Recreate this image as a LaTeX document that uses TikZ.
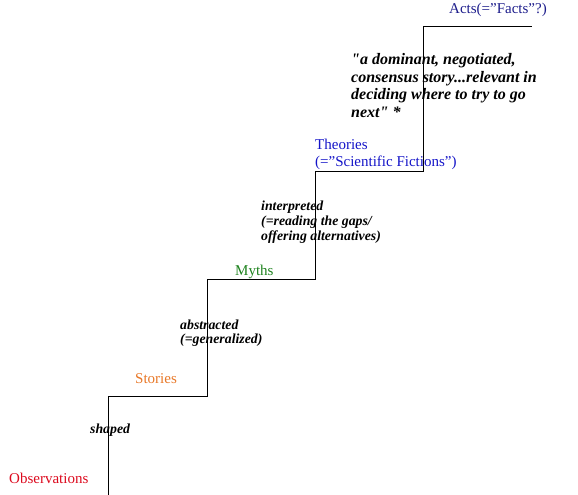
\documentclass[tikz,border=0pt]{standalone}
\usepackage{fontspec}
\setmainfont{Liberation Serif}[Ligatures=TeXOff]
\definecolor{actsc}{RGB}{30,30,140}
\definecolor{theoc}{RGB}{20,20,200}
\definecolor{mythc}{RGB}{30,130,30}
\definecolor{storc}{RGB}{232,120,40}
\definecolor{obsc}{RGB}{220,10,30}
\tikzset{
  lbl/.style={anchor=base west, inner sep=0pt, font=\fontsize{15}{17}\selectfont},
  quo/.style={anchor=base west, inner sep=0pt, font=\fontsize{16}{18}\selectfont\bfseries\itshape},
  verb/.style={anchor=base west, inner sep=0pt, font=\fontsize{13.8}{15}\selectfont\bfseries\itshape},
  stair/.style={draw=black, line width=1pt}
}
\begin{document}
\begin{tikzpicture}[x=1pt,y=-1pt]
\useasboundingbox (0,0) rectangle (578,495);
% staircase
\draw[stair] (108,495) -- (108,396) -- (207,396) -- (207,279) -- (315,279)
  -- (315,171) -- (423,171) -- (423,27) -- (532,27);
% level labels
\node[lbl, text=obsc] (obs) at (9,483) {Observations};
\node[lbl, text=storc] (sto) at (135,383) {Stories};
\node[lbl, text=mythc] (myt) at (235,275) {Myths};
\node[lbl, text=theoc] (the1) at (315,149) {Theories};
\node[lbl, text=theoc] (the2) at (315,166) {(=”Scientific Fictions”)};
\node[lbl, text=actsc] (act) at (449,14) {Acts(=”Facts”?)};
% step labels
\node[verb] (shp) at (90,433) {shaped};
\node[verb] (abs1) at (180,329) {abstracted};
\node[verb] (abs2) at (180,343) {(=generalized)};
\node[verb] (int1) at (261,210) {interpreted};
\node[verb] (int2) at (261,225) {(=reading the gaps/};
\node[verb] (int3) at (261,240) {offering alternatives)};
% quote
\node[quo] (q1) at (351,64) {"a dominant, negotiated,};
\node[quo] (q2) at (351,82) {consensus story...relevant in};
\node[quo] (q3) at (351,99.5) {deciding where to try to go};
\node[quo] (q4) at (351,117) {next" *};
\end{tikzpicture}
\end{document}
